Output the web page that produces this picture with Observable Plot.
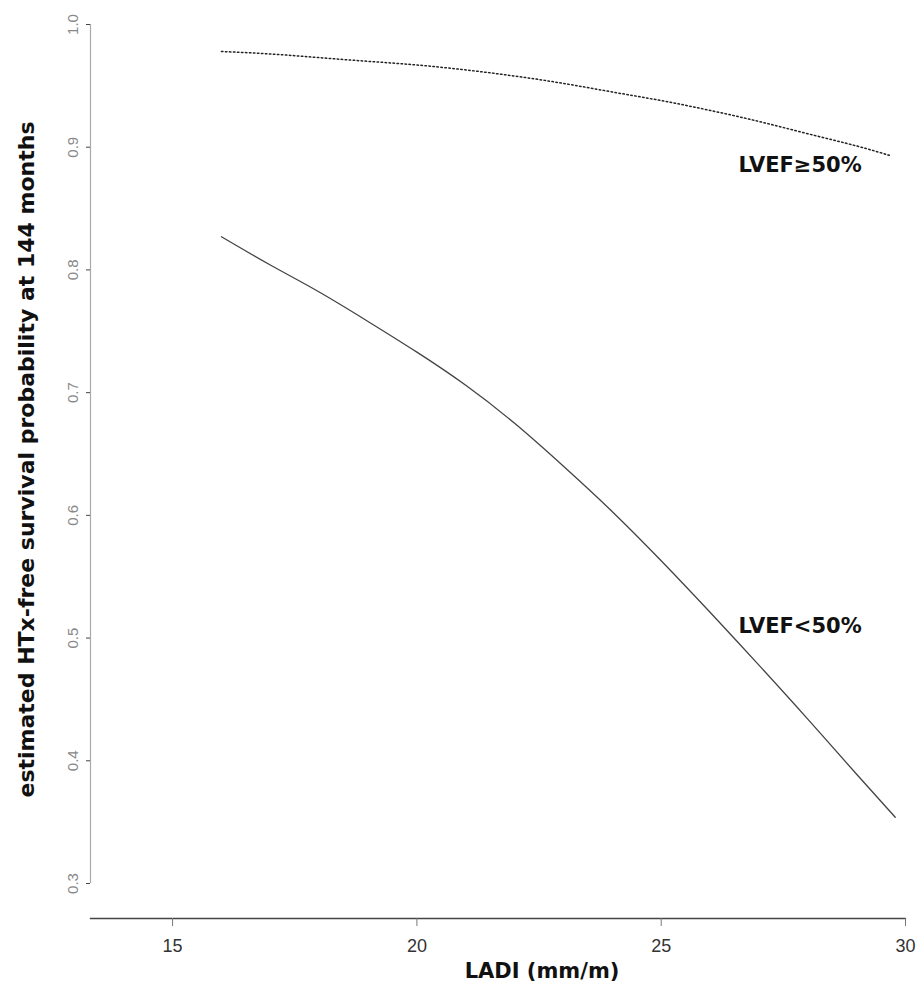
<!DOCTYPE html>
<html>
<head>
<meta charset="utf-8">
<script src="https://cdn.jsdelivr.net/npm/d3@7"></script>
<script src="https://cdn.jsdelivr.net/npm/@observablehq/plot@0.6"></script>
<style>
  html, body { margin: 0; padding: 0; background: #fff; }
  #chart svg { display: block; }
</style>
</head>
<body>
<div id="chart"></div>
<script>
// ---- data ----
const ladiHigh = [16, 17, 18, 19, 20, 21, 22, 23, 24, 25, 26, 27, 28, 29, 29.7];
const survHigh = [0.978, 0.976, 0.973, 0.970, 0.967, 0.963, 0.958, 0.952, 0.945, 0.938, 0.930, 0.921, 0.911, 0.901, 0.893];
const ladiLow  = [16, 17, 18, 19, 20, 21, 22, 23, 24, 25, 26, 27, 28, 29, 29.79];
const survLow  = [0.827, 0.804, 0.782, 0.758, 0.733, 0.706, 0.675, 0.640, 0.603, 0.563, 0.521, 0.478, 0.434, 0.389, 0.354];

const seriesNames = ["LVEF≥50%", "LVEF<50%"];
const labelLadi = [26.58, 26.58];
const labelSurv = [0.885, 0.510];

const xTicks = [15, 20, 25, 30];
const yTicks = [0.3, 0.4, 0.5, 0.6, 0.7, 0.8, 0.9, 1.0];
const xDomain = [13.32, 30];
const yDomain = [0.3, 1.0];
const xLabel = "LADI (mm/m)";
const yLabel = "estimated HTx-free survival probability at 144 months";

// ---- build tables ----
const high = ladiHigh.map((x, i) => ({x, y: survHigh[i]}));
const low = ladiLow.map((x, i) => ({x, y: survLow[i]}));
const labels = seriesNames.map((name, i) => ({name, x: labelLadi[i], y: labelSurv[i]}));

const boldFont = "'DejaVu Sans', Verdana, sans-serif";
const tickFont = "'Liberation Sans', Arial, sans-serif";

const chart = Plot.plot({
  width: 924,
  height: 995,
  marginLeft: 90,
  marginRight: 19,
  marginTop: 24,
  marginBottom: 77,
  style: {background: "#fff", fontFamily: tickFont},
  x: {domain: xDomain},
  y: {domain: yDomain, range: [883, 24]},
  marks: [
    // x axis line and ticks
    Plot.frame({anchor: "bottom", stroke: "#444", strokeWidth: 1.3}),
    Plot.axisX({ticks: xTicks, tickSize: 8, tickPadding: 13, fontSize: 18, fill: "#333", stroke: "#777", label: null, tickFormat: d => String(d)}),
    // y axis line, ticks and rotated labels
    Plot.ruleX([xDomain[0]], {y1: yDomain[0], y2: yDomain[1], stroke: "#aaa", strokeWidth: 1.2}),
    Plot.axisY({ticks: yTicks, tickSize: 4, stroke: "#444", tickFormat: () => "", label: null}),
    Plot.text(yTicks, {x: xDomain[0], y: d => d, text: d => d3.format(".1f")(d), rotate: -90, dx: -17,
      textAnchor: "middle", lineAnchor: "middle", fontSize: 15, fill: "#888", fontFamily: tickFont}),
    // axis titles
    Plot.text([xLabel], {frameAnchor: "bottom", dx: 44, dy: 53, fontSize: 21, fontWeight: "bold",
      fontFamily: boldFont, fill: "#111", lineAnchor: "middle"}),
    Plot.text([yLabel], {frameAnchor: "left", rotate: -90, dx: -64, dy: -12, fontSize: 22, fontWeight: "bold",
      fontFamily: boldFont, fill: "#111", lineAnchor: "middle", textAnchor: "middle"}),
    // curves
    Plot.line(high, {x: "x", y: "y", curve: "natural", stroke: "#222", strokeWidth: 1.5, strokeDasharray: "1.5 2.5"}),
    Plot.line(low, {x: "x", y: "y", curve: "natural", stroke: "#444", strokeWidth: 1.3}),
    // series labels
    Plot.text(labels, {x: "x", y: "y", text: "name", textAnchor: "start", lineAnchor: "middle",
      fontSize: 21, fontWeight: "bold", fontFamily: boldFont, fill: "#111"})
  ]
});

document.getElementById("chart").appendChild(chart);
</script>
</body>
</html>
